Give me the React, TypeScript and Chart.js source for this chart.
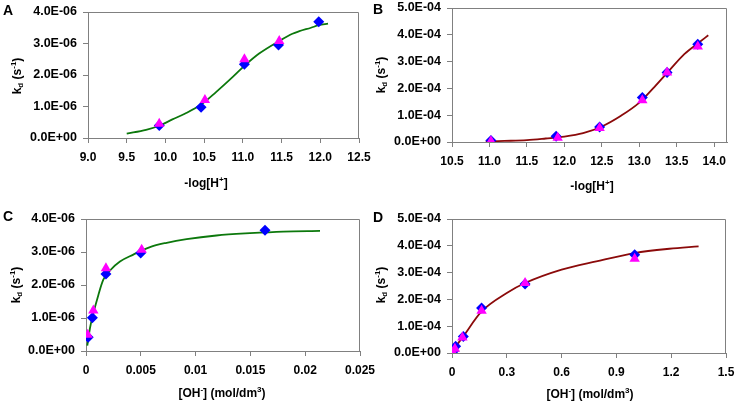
import { useEffect, useRef } from 'react';
import { Chart, registerables } from 'chart.js';

Chart.register(...registerables);

// ---------- Panel A : kd vs -log[H+] ----------
const aDiamondX = [9.92, 10.46, 11.02, 11.46, 11.98];
const aDiamondY = [0.40e-6, 0.98e-6, 2.34e-6, 2.95e-6, 3.69e-6];
const aTriangleX = [9.92, 10.51, 11.02, 11.47];
const aTriangleY = [0.45e-6, 1.21e-6, 2.50e-6, 3.08e-6];
const aFitX = [9.5, 9.75, 9.92, 10.09, 10.25, 10.46, 10.65, 10.87, 11.02, 11.21, 11.47, 11.64, 11.73, 11.88, 11.98, 12.1];
const aFitY = [0.14e-6, 0.26e-6, 0.39e-6, 0.59e-6, 0.77e-6, 1.06e-6, 1.45e-6, 1.94e-6, 2.29e-6, 2.68e-6, 3.08e-6, 3.31e-6, 3.39e-6, 3.50e-6, 3.58e-6, 3.63e-6];
const aXTicks = [9.0, 9.5, 10.0, 10.5, 11.0, 11.5, 12.0, 12.5];
const aXLabels = ['9.0', '9.5', '10.0', '10.5', '11.0', '11.5', '12.0', '12.5'];
const aYTicks = [0, 1e-6, 2e-6, 3e-6, 4e-6];

// ---------- Panel B : kd vs -log[H+] ----------
const bDiamondX = [11.02, 11.89, 12.47, 13.04, 13.37, 13.78];
const bDiamondY = [0.06e-4, 0.21e-4, 0.56e-4, 1.66e-4, 2.59e-4, 3.65e-4];
const bTriangleX = [11.02, 11.91, 12.47, 13.04, 13.37, 13.78];
const bTriangleY = [0.03e-4, 0.16e-4, 0.52e-4, 1.56e-4, 2.59e-4, 3.56e-4];
const bFitX = [10.95, 11.2, 11.5, 11.75, 12.0, 12.25, 12.5, 12.75, 13.0, 13.2, 13.4, 13.6, 13.8, 13.92];
const bFitY = [0.02e-4, 0.04e-4, 0.07e-4, 0.13e-4, 0.2e-4, 0.33e-4, 0.58e-4, 0.97e-4, 1.47e-4, 2.05e-4, 2.67e-4, 3.28e-4, 3.72e-4, 3.98e-4];
const bXTicks = [10.5, 11.0, 11.5, 12.0, 12.5, 13.0, 13.5, 14.0];
const bXLabels = ['10.5', '11.0', '11.5', '12.0', '12.5', '13.0', '13.5', '14.0'];
const bYTicks = [0, 1e-4, 2e-4, 3e-4, 4e-4, 5e-4];

// ---------- Panel C : kd vs [OH-] ----------
const cDiamondX = [0.0002, 0.00058, 0.00182, 0.00499, 0.01633];
const cDiamondY = [0.415e-6, 1.01e-6, 2.33e-6, 2.97e-6, 3.66e-6];
const cTriangleX = [0.00015, 0.00067, 0.00182, 0.00508];
const cTriangleY = [0.49e-6, 1.23e-6, 2.51e-6, 3.07e-6];
const cFitX = [0.00012, 0.00036, 0.00067, 0.00113, 0.00158, 0.00219, 0.0031, 0.00432, 0.00584, 0.00736, 0.00918, 0.0119, 0.01496, 0.018, 0.02135];
const cFitY = [0.16e-6, 0.69e-6, 1.14e-6, 1.70e-6, 2.16e-6, 2.44e-6, 2.71e-6, 2.92e-6, 3.15e-6, 3.28e-6, 3.39e-6, 3.50e-6, 3.57e-6, 3.62e-6, 3.64e-6];
const cXTicks = [0, 0.005, 0.01, 0.015, 0.02, 0.025];
const cXLabels = ['0', '0.005', '0.01', '0.015', '0.02', '0.025'];
const cYTicks = [0, 1e-6, 2e-6, 3e-6, 4e-6];

// ---------- Panel D : kd vs [OH-] ----------
const dDiamondX = [0.007, 0.02, 0.062, 0.162, 0.40, 1.0];
const dDiamondY = [0.06e-4, 0.25e-4, 0.62e-4, 1.68e-4, 2.57e-4, 3.67e-4];
const dTriangleX = [0.004, 0.016, 0.057, 0.162, 0.40, 1.0];
const dTriangleY = [0.02e-4, 0.16e-4, 0.58e-4, 1.58e-4, 2.61e-4, 3.52e-4];
const dFitX = [0.0, 0.007, 0.062, 0.162, 0.30, 0.40, 0.60, 0.79, 1.0, 1.19, 1.35];
const dFitY = [0.0, 0.1e-4, 0.62e-4, 1.55e-4, 2.24e-4, 2.61e-4, 3.11e-4, 3.42e-4, 3.73e-4, 3.89e-4, 3.98e-4];
const dXTicks = [0, 0.3, 0.6, 0.9, 1.2, 1.5];
const dXLabels = ['0', '0.3', '0.6', '0.9', '1.2', '1.5'];
const dYTicks = [0, 1e-4, 2e-4, 3e-4, 4e-4, 5e-4];

const FONT = "'Liberation Sans', Arial, Helvetica, sans-serif";
const AXIS_GREY = '#808080';
const BLUE = '#0000ff';
const MAGENTA = '#ff00ff';
const GREEN = '#0c780c';
const DARKRED = '#8b0a0a';

type Part = { t: string; k?: 'sup' | 'sub' };
const Y_TITLE: Part[] = [{ t: 'k' }, { t: 'd', k: 'sub' }, { t: ' (s' }, { t: '-1', k: 'sup' }, { t: ')' }];
const X_TITLE_H: Part[] = [{ t: '-log[H' }, { t: '+', k: 'sup' }, { t: ']' }];
const X_TITLE_OH: Part[] = [{ t: '[OH' }, { t: '-', k: 'sup' }, { t: '] (mol/dm' }, { t: '3', k: 'sup' }, { t: ')' }];

function sci(v: number): string {
  if (Math.abs(v) < 1e-15) return '0.0E+00';
  const [m, e] = v.toExponential(1).split('e');
  const n = parseInt(e, 10);
  return `${m}E${n < 0 ? '-' : '+'}${String(Math.abs(n)).padStart(2, '0')}`;
}

function zip(xs: number[], ys: number[]) {
  return xs.map((x, i) => ({ x, y: ys[i] }));
}

interface Panel {
  letter: string;
  letterPos: [number, number];
  pad: { left: number; top: number; right: number; bottom: number };
  yWidth: number;
  xMin: number;
  xMax: number;
  xTicks: number[];
  xLabels: string[];
  yMax: number;
  yTicks: number[];
  diamondX: number[];
  diamondY: number[];
  triangleX: number[];
  triangleY: number[];
  fitX: number[];
  fitY: number[];
  lineColor: string;
  xTitle: Part[];
  xTitlePos: [number, number];
  yTitlePos: [number, number];
}

const PANELS: Panel[] = [
  {
    letter: 'A', letterPos: [3, 15],
    pad: { left: 0, top: 12, right: 378, bottom: 233 }, yWidth: 88,
    xMin: 9.0, xMax: 12.5, xTicks: aXTicks, xLabels: aXLabels,
    yMax: 4e-6, yTicks: aYTicks,
    diamondX: aDiamondX, diamondY: aDiamondY, triangleX: aTriangleX, triangleY: aTriangleY,
    fitX: aFitX, fitY: aFitY, lineColor: GREEN,
    xTitle: X_TITLE_H, xTitlePos: [206, 182], yTitlePos: [16, 76],
  },
  {
    letter: 'B', letterPos: [373, 14],
    pad: { left: 370, top: 8, right: 10, bottom: 229 }, yWidth: 82,
    xMin: 10.5, xMax: 14.17, xTicks: bXTicks, xLabels: bXLabels,
    yMax: 5e-4, yTicks: bYTicks,
    diamondX: bDiamondX, diamondY: bDiamondY, triangleX: bTriangleX, triangleY: bTriangleY,
    fitX: bFitX, fitY: bFitY, lineColor: DARKRED,
    xTitle: X_TITLE_H, xTitlePos: [592, 185], yTitlePos: [380, 75],
  },
  {
    letter: 'C', letterPos: [3, 221],
    pad: { left: 0, top: 219, right: 377, bottom: 20 }, yWidth: 86,
    xMin: 0, xMax: 0.025, xTicks: cXTicks, xLabels: cXLabels,
    yMax: 4e-6, yTicks: cYTicks,
    diamondX: cDiamondX, diamondY: cDiamondY, triangleX: cTriangleX, triangleY: cTriangleY,
    fitX: cFitX, fitY: cFitY, lineColor: GREEN,
    xTitle: X_TITLE_OH, xTitlePos: [222, 392], yTitlePos: [15, 285],
  },
  {
    letter: 'D', letterPos: [373, 222],
    pad: { left: 370, top: 219, right: 11, bottom: 18 }, yWidth: 82,
    xMin: 0, xMax: 1.5, xTicks: dXTicks, xLabels: dXLabels,
    yMax: 5e-4, yTicks: dYTicks,
    diamondX: dDiamondX, diamondY: dDiamondY, triangleX: dTriangleX, triangleY: dTriangleY,
    fitX: dFitX, fitY: dFitY, lineColor: DARKRED,
    xTitle: X_TITLE_OH, xTitlePos: [590, 393], yTitlePos: [380, 285],
  },
];

function drawRich(ctx: CanvasRenderingContext2D, parts: Part[], cx: number, cy: number, rotate: boolean) {
  const big = `bold 12px ${FONT}`;
  const small = `bold 8px ${FONT}`;
  ctx.save();
  ctx.translate(cx, cy);
  if (rotate) ctx.rotate(-Math.PI / 2);
  ctx.fillStyle = '#000';
  ctx.textBaseline = 'alphabetic';
  ctx.textAlign = 'left';
  const widths = parts.map((p) => {
    ctx.font = p.k ? small : big;
    return ctx.measureText(p.t).width;
  });
  const total = widths.reduce((a, b) => a + b, 0);
  let x = -total / 2;
  parts.forEach((p, i) => {
    ctx.font = p.k ? small : big;
    const dy = p.k === 'sup' ? -5 : p.k === 'sub' ? 2 : 0;
    ctx.fillText(p.t, x, 4.5 + dy);
    x += widths[i];
  });
  ctx.restore();
}

function makeConfig(p: Panel): any {
  const decor = {
    id: 'decor',
    beforeDatasetsDraw(chart: any) {
      const { ctx, chartArea } = chart;
      const top = Math.round(chartArea.top) + 0.5;
      const right = Math.round(chartArea.right) - 0.5;
      ctx.save();
      ctx.strokeStyle = AXIS_GREY;
      ctx.lineWidth = 1;
      ctx.beginPath();
      ctx.moveTo(chartArea.left, top);
      ctx.lineTo(right, top);
      ctx.lineTo(right, chartArea.bottom);
      ctx.stroke();
      ctx.restore();
    },
    afterDraw(chart: any) {
      const ctx: CanvasRenderingContext2D = chart.ctx;
      ctx.save();
      ctx.fillStyle = '#000';
      ctx.font = `bold 14px ${FONT}`;
      ctx.textAlign = 'left';
      ctx.textBaseline = 'alphabetic';
      ctx.fillText(p.letter, p.letterPos[0], p.letterPos[1]);
      ctx.restore();
      drawRich(ctx, p.xTitle, p.xTitlePos[0], p.xTitlePos[1], false);
      drawRich(ctx, Y_TITLE, p.yTitlePos[0], p.yTitlePos[1], true);
    },
  };

  const tickFont = (size: number) => ({ family: FONT, size, weight: 'bold' as const });

  return {
    type: 'scatter',
    data: {
      datasets: [
        {
          data: zip(p.triangleX, p.triangleY),
          pointStyle: 'triangle',
          pointRadius: 6,
          backgroundColor: MAGENTA,
          borderWidth: 0,
          showLine: false,
          order: 0,
        },
        {
          data: zip(p.diamondX, p.diamondY),
          pointStyle: 'rectRot',
          pointRadius: 5.5,
          backgroundColor: BLUE,
          borderWidth: 0,
          showLine: false,
          order: 1,
        },
        {
          data: zip(p.fitX, p.fitY),
          showLine: true,
          pointRadius: 0,
          borderColor: p.lineColor,
          borderWidth: 1.8,
          tension: 0.4,
          cubicInterpolationMode: 'monotone',
          fill: false,
          order: 2,
        },
      ],
    },
    options: {
      responsive: false,
      animation: false,
      events: [],
      layout: { padding: p.pad },
      plugins: {
        legend: { display: false },
        tooltip: { enabled: false },
        title: { display: false },
      },
      scales: {
        x: {
          type: 'linear',
          min: p.xMin,
          max: p.xMax,
          afterBuildTicks: (s: any) => {
            s.ticks = p.xTicks.map((v) => ({ value: v }));
          },
          afterFit: (s: any) => {
            s.height = 30;
            s.paddingLeft = 0;
            s.paddingRight = 0;
            s.paddingTop = 0;
            s.paddingBottom = 0;
          },
          ticks: {
            autoSkip: false,
            maxRotation: 0,
            minRotation: 0,
            padding: 7,
            color: '#000',
            font: tickFont(12),
            callback: (_v: any, i: number) => p.xLabels[i],
          },
          grid: { display: true, drawOnChartArea: false, drawTicks: true, tickLength: 5, color: AXIS_GREY, lineWidth: 1 },
          border: { display: true, color: AXIS_GREY, width: 1 },
        },
        y: {
          type: 'linear',
          min: 0,
          max: p.yMax,
          afterBuildTicks: (s: any) => {
            s.ticks = p.yTicks.map((v) => ({ value: v }));
          },
          afterFit: (s: any) => {
            s.width = p.yWidth;
            s.paddingLeft = 0;
            s.paddingRight = 0;
            s.paddingTop = 0;
            s.paddingBottom = 0;
          },
          ticks: {
            autoSkip: false,
            padding: 6,
            color: '#000',
            font: tickFont(12.5),
            callback: (v: number) => sci(v),
          },
          grid: { display: true, drawOnChartArea: false, drawTicks: true, tickLength: 5, color: AXIS_GREY, lineWidth: 1 },
          border: { display: true, color: AXIS_GREY, width: 1 },
        },
      },
    },
    plugins: [decor],
  };
}

export default function App() {
  const refs = useRef<(HTMLCanvasElement | null)[]>([]);
  useEffect(() => {
    const charts = PANELS.map((p, i) => new Chart(refs.current[i] as HTMLCanvasElement, makeConfig(p)));
    return () => charts.forEach((c) => c.destroy());
  }, []);
  return (
    <div style={{ position: 'fixed', left: 0, top: 0, width: 737, height: 401, background: '#fff', overflow: 'hidden' }}>
      {PANELS.map((p, i) => (
        <canvas
          key={p.letter}
          ref={(el) => {
            refs.current[i] = el;
          }}
          width={737}
          height={401}
          style={{ position: 'absolute', left: 0, top: 0, width: 737, height: 401 }}
        />
      ))}
    </div>
  );
}
